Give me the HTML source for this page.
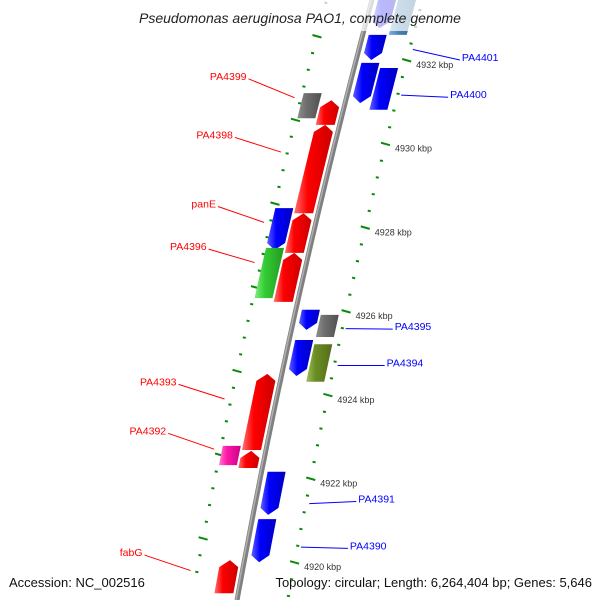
<!DOCTYPE html>
<html><head><meta charset="utf-8"><style>
html,body{margin:0;padding:0;background:#fff}
svg{display:block;font-family:"Liberation Sans","DejaVu Sans",sans-serif}
</style></head><body>
<svg id="map" width="600" height="600" viewBox="0 0 600 600">
<defs>
<linearGradient id="g-red" x1="0" x2="1" y1="0" y2="0"><stop offset="0" stop-color="#ff7070"/><stop offset="0.35" stop-color="#ff0000"/><stop offset="1" stop-color="#cc0000"/></linearGradient>
<linearGradient id="g-blue" x1="0" x2="1" y1="0" y2="0"><stop offset="0" stop-color="#6060ff"/><stop offset="0.35" stop-color="#0000ff"/><stop offset="1" stop-color="#0000c0"/></linearGradient>
<linearGradient id="g-gray" x1="0" x2="1" y1="0" y2="0"><stop offset="0" stop-color="#909090"/><stop offset="0.35" stop-color="#707070"/><stop offset="1" stop-color="#505050"/></linearGradient>
<linearGradient id="g-green" x1="0" x2="1" y1="0" y2="0"><stop offset="0" stop-color="#80ee80"/><stop offset="0.35" stop-color="#33cc33"/><stop offset="1" stop-color="#229922"/></linearGradient>
<linearGradient id="g-pink" x1="0" x2="1" y1="0" y2="0"><stop offset="0" stop-color="#ff80d0"/><stop offset="0.35" stop-color="#ff1aa8"/><stop offset="1" stop-color="#cc0088"/></linearGradient>
<linearGradient id="g-olive" x1="0" x2="1" y1="0" y2="0"><stop offset="0" stop-color="#a0c060"/><stop offset="0.35" stop-color="#6b8e23"/><stop offset="1" stop-color="#556b1a"/></linearGradient>
<linearGradient id="g-steel" x1="0" x2="1" y1="0" y2="0"><stop offset="0" stop-color="#80b0e0"/><stop offset="0.35" stop-color="#4682b4"/><stop offset="1" stop-color="#305f8a"/></linearGradient>
</defs>
<g id="ticks"></g>
<path id="backbone" fill="none" stroke="#808080" stroke-width="5"/>
<path id="backbone-hi" fill="none" stroke="#b0b0b0" stroke-width="1.5"/>
<g id="genes"></g>
<g id="labels"></g>
<rect x="0" y="0" width="600" height="31" fill="#fff" opacity="0.72"/>
<text x="300" y="23" text-anchor="middle" font-size="14" font-style="italic" fill="#222">Pseudomonas aeruginosa PAO1, complete genome</text>
<text x="9" y="587" font-size="13" fill="#111">Accession: NC_002516</text>
<text x="592" y="587" text-anchor="end" font-size="13" fill="#111">Topology: circular; Length: 6,264,404 bp; Genes: 5,646</text>
</svg>
<script>
// gene data (kbp positions), lane: -2 left outer, -1 left inner, 1 right inner, 2 right outer
const geneStart = [4931.04,4930.45,4928.34,4927.39,4924.50,4922.25,4919.26,4928.46,4930.61,4927.51,4922.32,4932.76,4932.00,4930.97,4925.55,4924.45,4921.13,4920.00,4932.60,4930.81,4925.38,4924.31,4926.50,4926.60,4918.80];
const geneEnd   = [4930.45+0.6,4928.34+2.1-0.05,4927.39+0.95,4926.22+1.17,4922.68+1.82,4922.66-0.41,4920.05,4927.46+1.0,4931.21,4926.31+1.2,4922.78,4933.60,4932.60,4931.93,4926.03,4925.31,4922.16,4921.03,4933.60,4931.81,4925.91,4925.21,4926.50,4926.60,4918.80];
const geneLane  = [-1,-1,-1,-1,-1,-1,-1,-2,-2,-2,-2,1,1,1,1,1,1,1,2,2,2,2,0,0,0];
const geneDir   = [1,1,1,1,1,1,1,-1,0,0,0,-1,-1,-1,-1,-1,-1,-1,0,0,0,0,0,0,0];
const geneColor = ["red","red","red","red","red","red","red","blue","gray","green","pink","blue","blue","blue","blue","blue","blue","blue","steel","blue","gray","olive","none","none","none"];
// fix computed ends (explicit values)
const geneEndFixed = [4931.04,4930.45,4928.34,4927.39,4924.50,4922.66,4920.05,4928.46,4931.21,4927.51,4922.78,4933.60,4932.60,4931.93,4926.03,4925.31,4922.16,4921.03,4933.60,4931.81,4925.91,4925.21];
const geneStartFixed = [4930.45,4928.34,4927.39,4926.22,4922.68,4922.25,4919.26,4927.46,4930.61,4926.31,4922.32,4932.76,4932.00,4930.97,4925.55,4924.45,4921.13,4920.00,4932.60,4930.81,4925.38,4924.31];
// tick data
const tickKbp = [4920,4922,4924,4926,4928,4930,4932];
const tickLabels = ["4920 kbp","4922 kbp","4924 kbp","4926 kbp","4928 kbp","4930 kbp","4932 kbp"];
// labels
const labelNames = ["PA4399","PA4398","panE","PA4396","PA4393","PA4392","fabG","PA4401","PA4400","PA4395","PA4394","PA4391","PA4390"];
const labelSide = [-1,-1,-1,-1,-1,-1,-1,1,1,1,1,1,1];
const labelKbp = [4931.10,4929.80,4928.12,4927.16,4923.90,4922.70,4919.80,4932.25,4931.16,4925.58,4924.70,4921.40,4920.36];
const labelTextKbp = [4931.55,4930.15,4928.50,4927.48,4924.25,4923.08,4920.17,4932.00,4931.11,4925.57,4924.70,4921.45,4920.33];

function yOf(k){ return 60 + (4932 - k) * 41.85; }
function xb(y){ return 372 - 0.268*y + 7.2e-5*y*y; }
const NS='http://www.w3.org/2000/svg';
function mk(tag,attrs,parent){ const e=document.createElementNS(NS,tag); for(const a in attrs) e.setAttribute(a,attrs[a]); parent.appendChild(e); return e; }
function P(o,y){ return (xb(y)+o).toFixed(1)+','+y.toFixed(1); }

// backbone
let d='';
for(let y=-10;y<=610;y+=10){ d+=(y===-10?'M':'L')+(xb(y)).toFixed(1)+','+y; }
document.getElementById('backbone').setAttribute('d',d);
let d2='';
for(let y=-10;y<=610;y+=10){ d2+=(y===-10?'M':'L')+(xb(y)-1).toFixed(1)+','+y; }
document.getElementById('backbone-hi').setAttribute('d',d2);

// tick rings
const tg=document.getElementById('ticks');
for(let k=4918.4;k<=4934;k+=0.4){
  const y=yOf(k); if(y<-5||y>605) continue;
  const isMajor = Math.abs(((k-4920)/2)-Math.round((k-4920)/2))<0.01;
  const rd = mk('line', isMajor?{x1:xb(y)+46,y1:y-1,x2:xb(y)+55,y2:y+1.5,stroke:'#0a8a0a','stroke-width':2}:{x1:xb(y)+49,y1:y,x2:xb(y)+52,y2:y+0.6,stroke:'#0a8a0a','stroke-width':2},tg);
  
  
  const yl=y-24;
  const ld = mk('line', isMajor?{x1:xb(yl)-50,y1:yl-1,x2:xb(yl)-41,y2:yl+1.5,stroke:'#0a8a0a','stroke-width':2}:{x1:xb(yl)-47,y1:yl,x2:xb(yl)-44,y2:yl+0.6,stroke:'#0a8a0a','stroke-width':2},tg);
  
  
}
tickKbp.forEach((k,i)=>{
  const y=yOf(k);
  const t=mk('text',{x:xb(y)+60,y:y+8,'font-size':9,fill:'#333'},tg);
  t.textContent=tickLabels[i];
  
  
});

// genes
const gg=document.getElementById('genes');
const laneOff={'-2':[-44,-26],'-1':[-24,-5],'1':[6,24],'2':[26,44]};
for(let i=0;i<geneStartFixed.length;i++){
  const [o1,o2]=laneOff[String(geneLane[i])];
  const yt=yOf(geneEndFixed[i]), yb=yOf(geneStartFixed[i]);
  const om=(o1+o2)/2, h=Math.min(7,(yb-yt)/2);
  let pts;
  if(geneDir[i]===1) pts=[P(o1,yb),P(o2,yb),P(o2,yt+h),P(om,yt),P(o1,yt+h)];
  else if(geneDir[i]===-1) pts=[P(o1,yt),P(o2,yt),P(o2,yb-h),P(om,yb),P(o1,yb-h)];
  else pts=[P(o1,yt),P(o2,yt),P(o2,yb),P(o1,yb)];
  const g=mk('polygon',{points:pts.join(' '),fill:'url(#g-'+geneColor[i]+')'},gg);
  
  
}

// labels
const lg=document.getElementById('labels');
labelNames.forEach((n,i)=>{
  const side=labelSide[i];
  const yg=yOf(labelKbp[i]);
  const yt=yOf(labelTextKbp[i]);
  const col=side<0?'#ff0000':'#0000ff';
  let x1,x2,tx;
  if(side<0){ x1=xb(yg)-52; x2=x1-46; tx=x2-2; }
  else { x1=xb(yg)+54; x2=x1+47; tx=x2+2; }
  const ln=mk('line',{x1:x1,y1:yg,x2:x2,y2:yt,stroke:col,'stroke-width':1},lg);
  
  
  const t=mk('text',{x:tx,y:yt+1,'font-size':10.5,fill:col,'text-anchor':side<0?'end':'start'},lg);
  t.textContent=n;
  
  
});
</script>
</body></html>
